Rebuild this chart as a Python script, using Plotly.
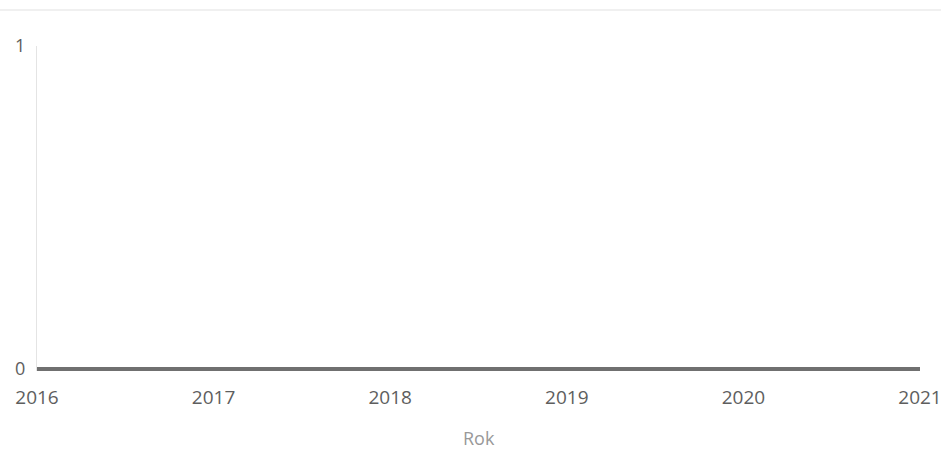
import plotly.graph_objects as go

years = [2016, 2017, 2018, 2019, 2020, 2021]
values = [0, 0, 0, 0, 0, 0]
y_ticks = [0, 1]

fig = go.Figure()
fig.add_trace(go.Scatter(
    x=years, y=values, mode="lines",
    line=dict(color="#707070", width=4),
    hoverinfo="skip", showlegend=False,
))

fig.update_layout(
    width=941, height=449,
    margin=dict(l=37, r=21, t=46, b=78, autoexpand=False),
    paper_bgcolor="white", plot_bgcolor="white",
    font=dict(family="Open Sans", color="#5e5e5e", size=18),
    xaxis=dict(
        range=[2016, 2021], tickvals=years, ticktext=[str(y) for y in years],
        showgrid=False, zeroline=False, showline=False, automargin=False,
        ticks="", ticklabelstandoff=13, ticklabeloverflow="allow",
        tickfont=dict(size=19, color="#5e5e5e"),
    ),
    yaxis=dict(
        range=[-0.006, 1], tickvals=y_ticks, ticktext=["0", "1"],
        showgrid=False, zeroline=False, automargin=False,
        showline=True, linecolor="#e4e4e4", linewidth=1,
        ticks="", ticklabelstandoff=7, ticklabeloverflow="allow",
        tickfont=dict(size=18, color="#5e5e5e"),
    ),
    annotations=[dict(text="Rok", xref="paper", yref="paper", x=0.5, y=-0.206,
                      xanchor="center", yanchor="middle", showarrow=False,
                      font=dict(size=18, color="#999999"))],
    shapes=[dict(type="line", xref="paper", yref="paper", x0=-0.042, x1=1.024,
                 y0=1.111, y1=1.111, line=dict(color="#f0f0f0", width=2))],
)

fig.write_html(
    "out.html",
    config={"displayModeBar": False, "staticPlot": True},
    post_script="document.body.style.margin='0';document.body.style.overflow='hidden';",
)
